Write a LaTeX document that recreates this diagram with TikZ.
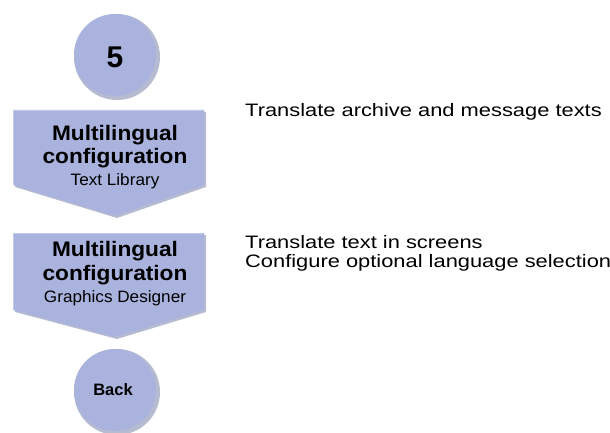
\documentclass[tikz,border=0pt]{standalone}
\usepackage{fontspec}
\setmainfont{Liberation Sans}
\newfontfamily\widefont[FakeStretch=1.215]{Liberation Sans}
\newfontfamily\boxbold[FakeStretch=1.08]{Liberation Sans Bold}
\newfontfamily\boxreg[FakeStretch=1.04]{Liberation Sans}
\definecolor{btnfill}{HTML}{A9B3DD}
\definecolor{btndark}{HTML}{7A83AA}
\definecolor{btnlight}{HTML}{C3CAEA}
\begin{document}
\begin{tikzpicture}[x=1pt,y=-1pt,
  desc/.style={anchor=base west,inner sep=0pt,font=\widefont\fontsize{18}{20}\selectfont},
  bigtxt/.style={anchor=base,inner sep=0pt,font=\boxbold\fontsize{21}{23}\selectfont},
  smalltxt/.style={anchor=base,inner sep=0pt,font=\boxreg\fontsize{16.5}{18}\selectfont},
  btnshade/.style={fill=btndark,opacity=0.55},
  btnface/.style={fill=btnfill},
  circtxt/.style={inner sep=0pt,font=\bfseries\fontsize{#1}{#1}\selectfont}]
\useasboundingbox (0,0) rectangle (610,433);
% circle 5
\fill[btnshade] (117,57) circle[radius=43];
\fill[btnface] (115,55) circle[radius=41];
\node[circtxt=30] (five) at (115,57) {5};
% box 1
\fill[btnshade] (15,112) -- (206,112) -- (206,187) -- (117,218) -- (15,187) -- cycle;
\fill[btnface] (13,110) -- (204,110) -- (204,185) -- (115,216) -- (13,185) -- cycle;
\draw[btnlight,line width=1.2pt] (13.6,185) -- (13.6,110.6) -- (203.4,110.6);
\node[bigtxt] (m1) at (115,140) {Multilingual};
\node[bigtxt] (c1) at (115,164) {configuration};
\node[smalltxt] (t1) at (115,185) {Text Library};
% box 2
\fill[btnshade] (15,235) -- (206,235) -- (206,312) -- (117,339) -- (15,312) -- cycle;
\fill[btnface] (13,233) -- (204,233) -- (204,310) -- (115,337) -- (13,310) -- cycle;
\draw[btnlight,line width=1.2pt] (13.6,310) -- (13.6,233.6) -- (203.4,233.6);
\node[bigtxt] (m2) at (115,256) {Multilingual};
\node[bigtxt] (c2) at (115,280) {configuration};
\node[smalltxt] (t2) at (115,302) {Graphics Designer};
% back circle
\fill[btnshade] (117,392) circle[radius=43];
\fill[btnface] (115,390) circle[radius=41];
\node[circtxt=16.5] (back) at (113,390) {Back};
% descriptions
\node[desc] (d1) at (245,117) {Translate archive and message texts};
\node[desc] (d2) at (245,248) {Translate text in screens};
\node[desc] (d3) at (245,267) {Configure optional language selection};
\end{tikzpicture}
\end{document}
